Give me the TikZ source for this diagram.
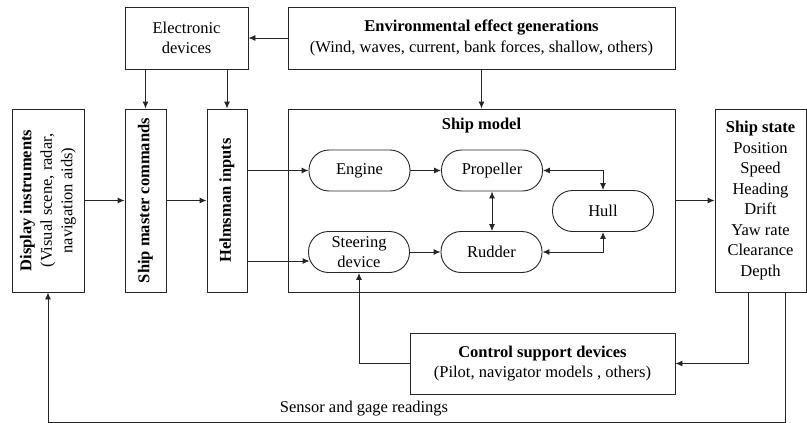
\documentclass[tikz,border=0pt]{standalone}
\usepackage{fontspec}
\setmainfont{Liberation Serif}
\usetikzlibrary{arrows.meta,calc}
\begin{document}
\begin{tikzpicture}[x=1pt,y=-1pt,
  box/.style={draw=black!85, line width=0.9pt, inner sep=0pt},
  pill/.style={draw=black!85, line width=0.9pt, rounded corners=20pt, minimum width=101pt, minimum height=41pt, inner sep=0pt},
  arr/.style={draw=black!85, line width=0.9pt, -{Latex[length=7pt,width=6pt]}},
  darr/.style={draw=black!85, line width=0.9pt, {Latex[length=7pt,width=6pt]}-{Latex[length=7pt,width=6pt]}},
  txt/.style={font=\fontsize{16.5}{20.5}\selectfont, align=center, inner sep=0pt},
  btxt/.style={font=\fontsize{16.5}{20.5}\selectfont\bfseries, align=center, inner sep=0pt}]
\useasboundingbox (0,0) rectangle (807,423);
\node[box, minimum width=123pt, minimum height=62pt, txt] (elec) at (186.5,38) {Electronic\\devices};
\node[box, minimum width=387pt, minimum height=62pt, txt] (env) at (481.5,38) {\textbf{Environmental effect generations}\\(Wind, waves, current, bank forces, shallow, others)};
\node[box, minimum width=72pt, minimum height=183pt] (disp) at (48,200.5) {};
\node[txt, rotate=90] (dispt) at (disp.center) {\textbf{Display instruments}\\(Visual scene, radar,\\navigation aids)};
\node[box, minimum width=41pt, minimum height=183pt] (master) at (145.5,200.5) {};
\node[btxt, rotate=90] (mastert) at (master.center) {Ship master commands};
\node[box, minimum width=40pt, minimum height=183pt] (helm) at (227,200.5) {};
\node[btxt, rotate=90] (helmt) at (helm.center) {Helmsman inputs};
\node[box, minimum width=387pt, minimum height=183pt] (model) at (481.5,200.5) {};
\node[btxt] (modelt) at (481.5,126) {Ship model};
\node[box, minimum width=91pt, minimum height=183pt, txt] (state) at (760.5,200.5) {\textbf{Ship state}\\Position\\Speed\\Heading\\Drift\\Yaw rate\\Clearance\\Depth};
\node[pill, txt] (engine) at (359.5,170.5) {Engine};
\node[pill, txt] (prop) at (492,170.5) {Propeller};
\node[pill, txt] (hull) at (603,211) {Hull};
\node[pill, txt] (steer) at (359,252) {Steering\\device};
\node[pill, txt] (rudder) at (491.5,252) {Rudder};
\node[box, minimum width=265pt, minimum height=61pt, txt] (ctrl) at (542.5,363.5) {\textbf{Control support devices}\\(Pilot, navigator models , others)};
\node[txt] (sensor) at (364,409) {Sensor and gage readings};
\draw[arr] (env.west) -- (elec.east);
\draw[arr] (elec.south -| master.north) -- (master.north);
\draw[arr] (elec.south -| helm.north) -- (helm.north);
\draw[arr] (env.south) -- (model.north);
\draw[arr] (disp.east) -- (master.west);
\draw[arr] (master.east) -- (helm.west);
\draw[arr] (helm.east |- engine.west) -- (engine.west);
\coordinate (sin) at ($(steer.west)+(1.5,9)$);
\draw[arr] (helm.east |- sin) -- (sin);
\draw[arr] (engine.east) -- (prop.west);
\draw[arr] (steer.east) -- (rudder.west);
\draw[darr] (prop.south) -- (prop.south |- rudder.north);
\draw[darr] (prop.east) -| (hull.north);
\draw[darr] (rudder.east) -| (hull.south);
\draw[arr] (model.east) -- (state.west);
\coordinate (c1) at ($(state.south)+(-12.5,0)$);
\draw[arr] (c1) |- (ctrl.east);
\draw[arr] (ctrl.west) -| (steer.south);
\coordinate (c2) at ($(state.south)+(24.5,0)$);
\coordinate (c3) at (785,422);
\draw[arr] (c2) |- (disp.south |- c3) -- (disp.south);
\end{tikzpicture}
\end{document}
